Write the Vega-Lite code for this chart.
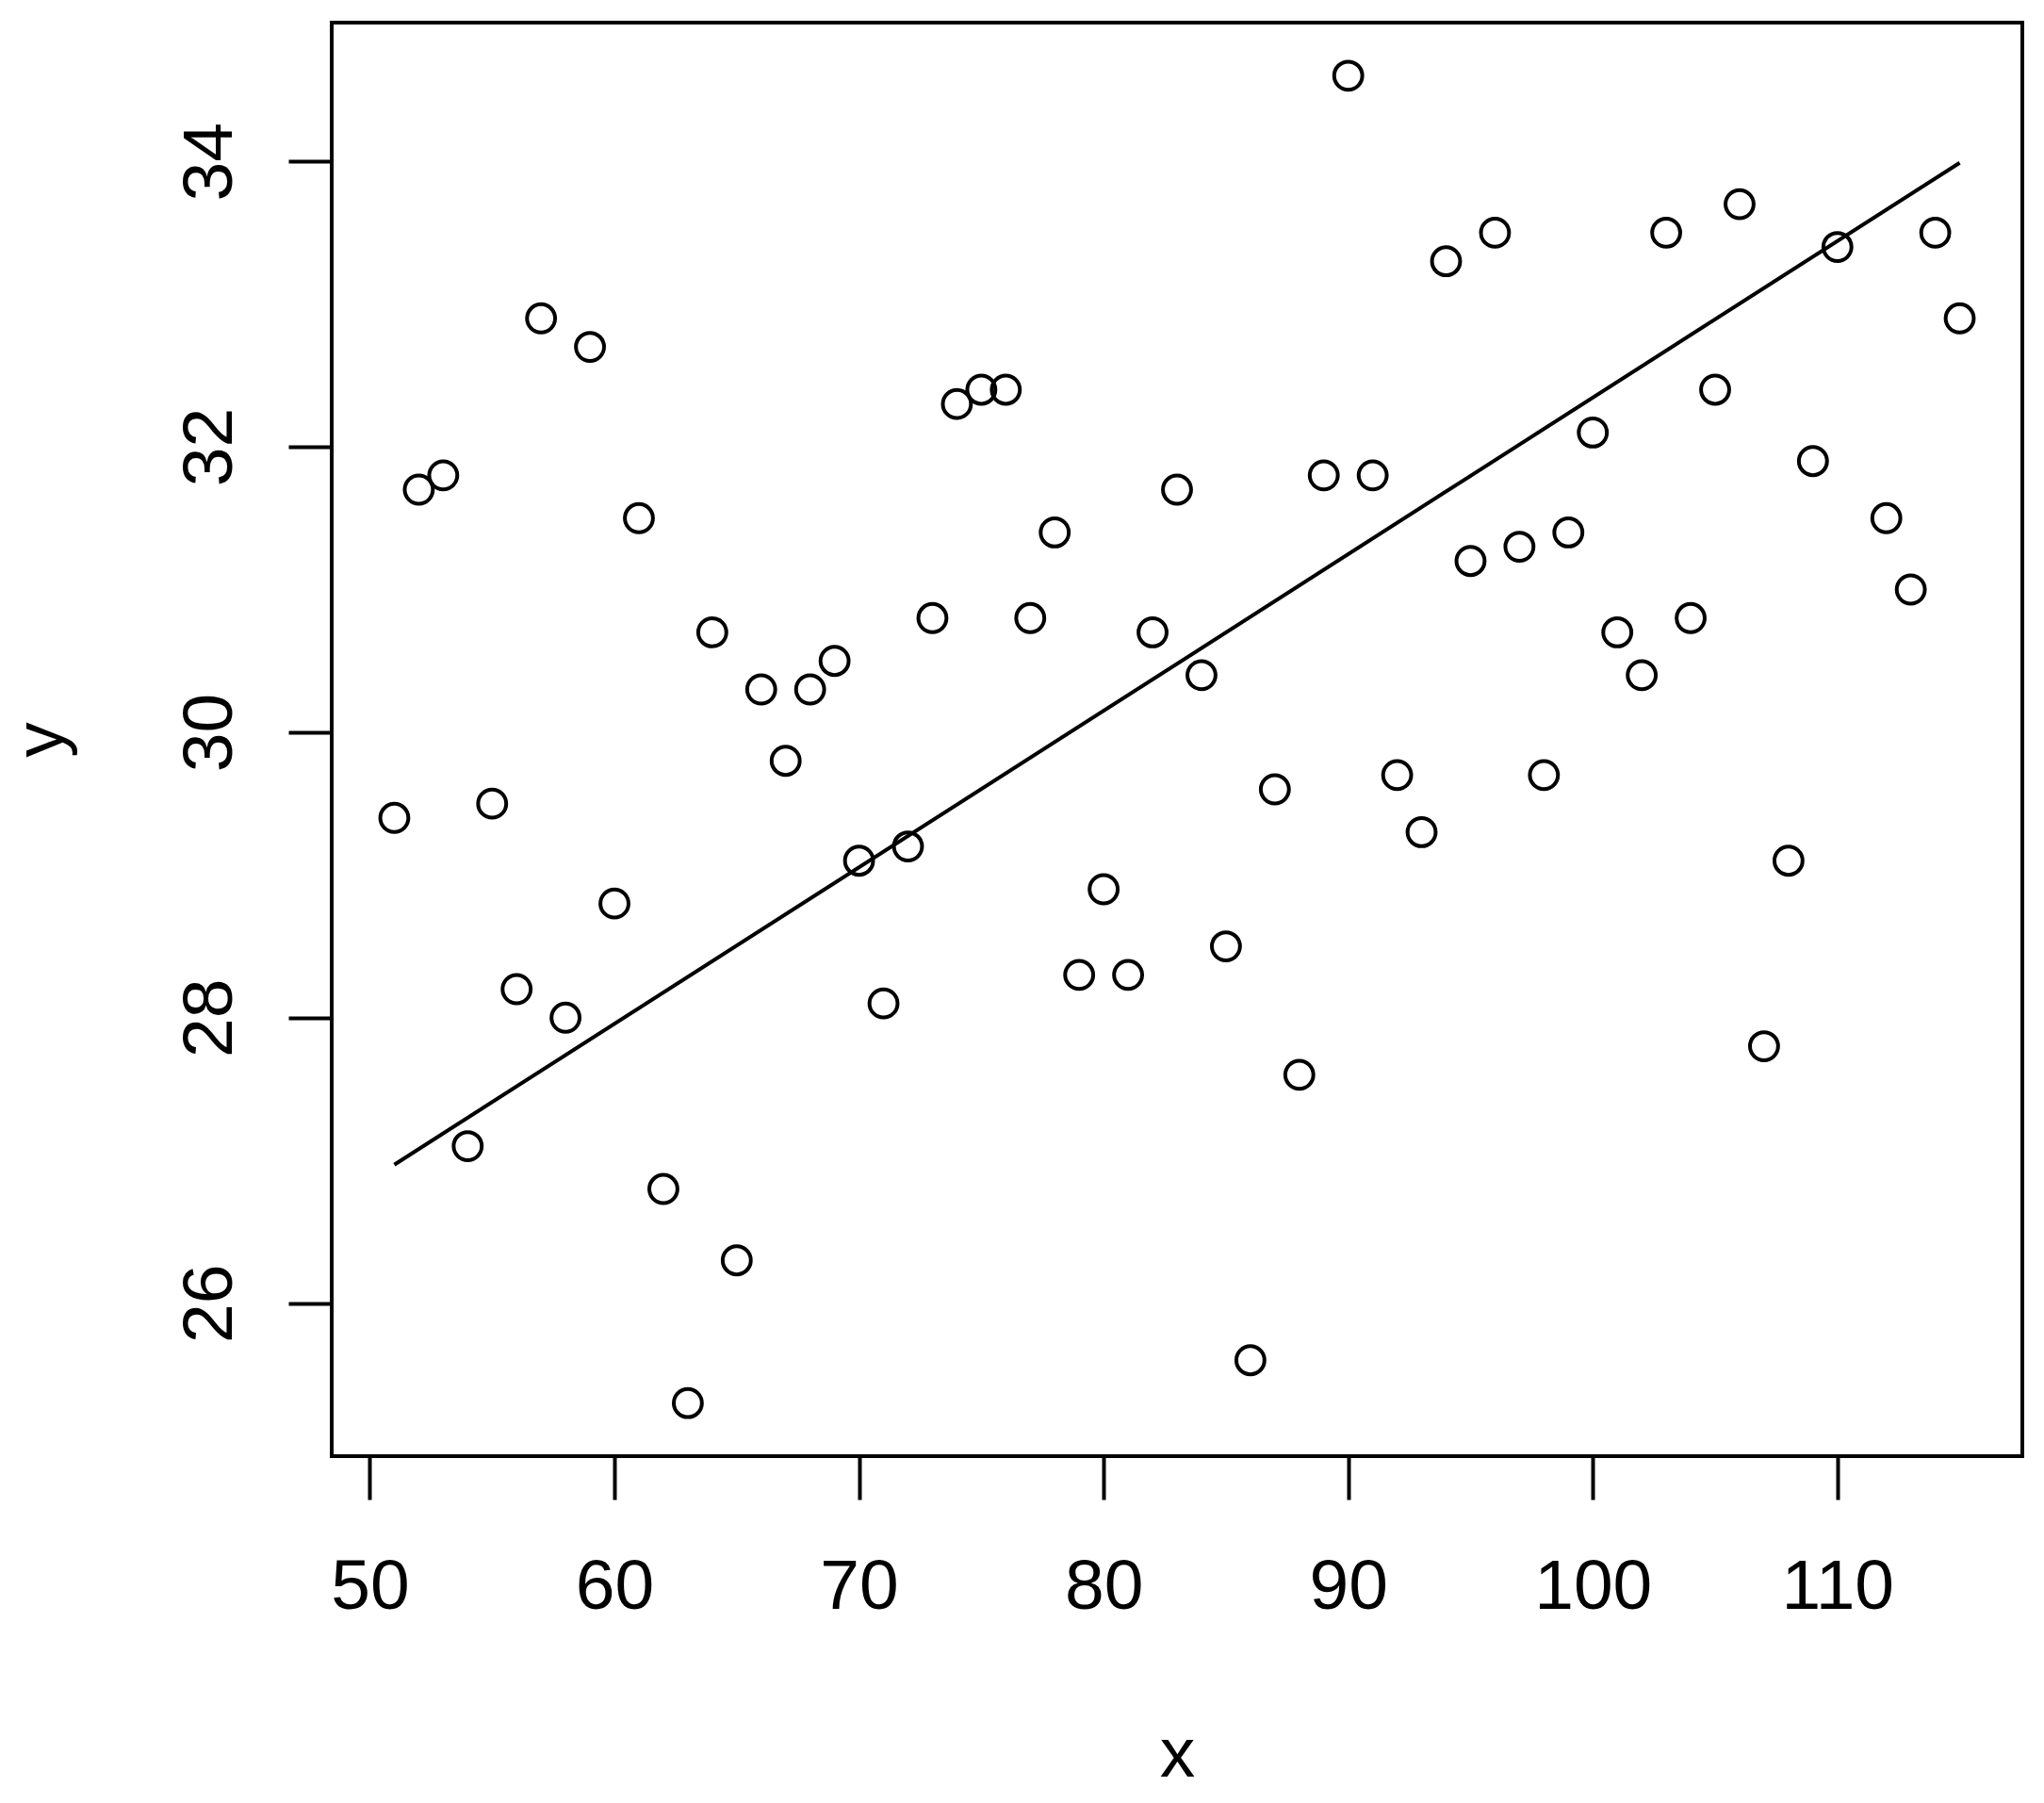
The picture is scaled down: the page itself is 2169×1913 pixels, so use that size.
{
  "$schema": "https://vega.github.io/schema/vega-lite/v6.json",
  "autosize": {"type": "none"},
  "padding": {"left": 352, "top": 24, "right": 23, "bottom": 368},
  "width": 1794,
  "height": 1521,
  "background": "white",
  "datasets": {
    "points": [
      {"x": 51, "y": 29.4}, {"x": 52, "y": 31.7}, {"x": 53, "y": 31.8}, {"x": 54, "y": 27.1},
      {"x": 55, "y": 29.5}, {"x": 56, "y": 28.2}, {"x": 57, "y": 32.9}, {"x": 58, "y": 28.0},
      {"x": 59, "y": 32.7}, {"x": 60, "y": 28.8}, {"x": 61, "y": 31.5}, {"x": 62, "y": 26.8},
      {"x": 63, "y": 25.3}, {"x": 64, "y": 30.7}, {"x": 65, "y": 26.3}, {"x": 66, "y": 30.3},
      {"x": 67, "y": 29.8}, {"x": 68, "y": 30.3}, {"x": 69, "y": 30.5}, {"x": 70, "y": 29.1},
      {"x": 71, "y": 28.1}, {"x": 72, "y": 29.2}, {"x": 73, "y": 30.8}, {"x": 74, "y": 32.3},
      {"x": 75, "y": 32.4}, {"x": 76, "y": 32.4}, {"x": 77, "y": 30.8}, {"x": 78, "y": 31.4},
      {"x": 79, "y": 28.3}, {"x": 80, "y": 28.9}, {"x": 81, "y": 28.3}, {"x": 82, "y": 30.7},
      {"x": 83, "y": 31.7}, {"x": 84, "y": 30.4}, {"x": 85, "y": 28.5}, {"x": 86, "y": 25.6},
      {"x": 87, "y": 29.6}, {"x": 88, "y": 27.6}, {"x": 89, "y": 31.8}, {"x": 90, "y": 34.6},
      {"x": 91, "y": 31.8}, {"x": 92, "y": 29.7}, {"x": 93, "y": 29.3}, {"x": 94, "y": 33.3},
      {"x": 95, "y": 31.2}, {"x": 96, "y": 33.5}, {"x": 97, "y": 31.3}, {"x": 98, "y": 29.7},
      {"x": 99, "y": 31.4}, {"x": 100, "y": 32.1}, {"x": 101, "y": 30.7}, {"x": 102, "y": 30.4},
      {"x": 103, "y": 33.5}, {"x": 104, "y": 30.8}, {"x": 105, "y": 32.4}, {"x": 106, "y": 33.7},
      {"x": 107, "y": 27.8}, {"x": 108, "y": 29.1}, {"x": 109, "y": 31.9}, {"x": 110, "y": 33.4},
      {"x": 112, "y": 31.5}, {"x": 113, "y": 31.0}, {"x": 114, "y": 33.5}, {"x": 115, "y": 32.9}
    ],
    "fit": [
      {"x": 51, "y": 26.97},
      {"x": 115, "y": 33.99}
    ]
  },
  "encoding": {
    "x": {
      "field": "x", "type": "quantitative", "title": "x",
      "scale": {"domain": [48.44, 117.56], "nice": false, "zero": false},
      "axis": {
        "values": [50, 60, 70, 80, 90, 100, 110],
        "labelPadding": 115, "labelBaseline": "alphabetic",
        "titleY": 339, "titleBaseline": "alphabetic"
      }
    },
    "y": {
      "field": "y", "type": "quantitative", "title": "y",
      "scale": {"domain": [24.928, 34.972], "nice": false, "zero": false},
      "axis": {
        "values": [26, 28, 30, 32, 34],
        "labelAngle": 270, "labelAlign": "center", "labelBaseline": "alphabetic",
        "labelPadding": 61,
        "titleX": -286, "titleBaseline": "alphabetic", "titleAngle": 270
      }
    }
  },
  "layer": [
    {
      "data": {"name": "points"},
      "mark": {"type": "point", "shape": "circle", "filled": false, "stroke": "black", "strokeWidth": 4, "size": 890, "opacity": 1}
    },
    {
      "data": {"name": "fit"},
      "mark": {"type": "line", "stroke": "black", "strokeWidth": 4}
    }
  ],
  "config": {
    "view": {"stroke": "black", "strokeWidth": 4},
    "axis": {
      "domain": false,
      "grid": false,
      "ticks": true,
      "tickSize": 46,
      "tickWidth": 4,
      "tickColor": "black",
      "labelFont": "Liberation Sans",
      "labelFontSize": 75,
      "labelColor": "black",
      "titleFont": "Liberation Sans",
      "titleFontSize": 75,
      "titleFontWeight": "normal",
      "titleColor": "black",
      "labelFlush": false,
      "labelOverlap": false
    }
  }
}
